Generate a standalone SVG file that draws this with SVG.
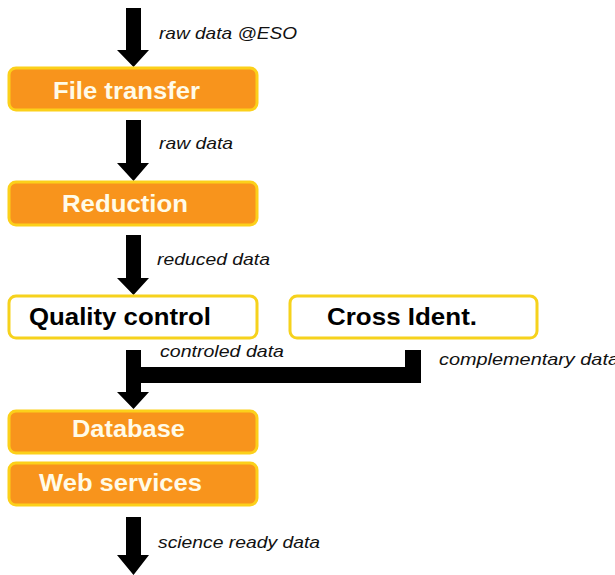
<svg xmlns="http://www.w3.org/2000/svg" width="615" height="575" viewBox="0 0 615 575">
<style>
.box{fill:#f8941c;stroke:#fcd01a;stroke-width:3}
.wbox{fill:#ffffff;stroke:#f6d21c;stroke-width:3}
.bl{font-family:"Liberation Sans",Arial,sans-serif;font-weight:bold;font-size:24px;fill:#fffbe8}
.bk{font-family:"Liberation Sans",Arial,sans-serif;font-weight:bold;font-size:24px;fill:#000}
.lb{font-family:"Liberation Sans",Arial,sans-serif;font-style:italic;font-size:17px;fill:#111}
.ar{fill:#000}
</style>
<rect width="615" height="575" fill="#fff"/>
<g id="connectors">
<polygon class="ar" points="126,8 141,8 141,50 149,50 133.5,67 117,50 126,50"/>
<polygon class="ar" points="126,120 141,120 141,163 149,163 133.5,181 117,163 126,163"/>
<polygon class="ar" points="126,235 141,235 141,278 149,278 133.5,295 117,278 126,278"/>
<polygon class="ar" points="126,350 141,350 141,367 405,367 405,350 421,350 421,383 141,383 141,392 149,392 133.5,409 117,392 126,392"/>
<polygon class="ar" points="126,517 141,517 141,555 149,555 133.5,575 117,555 126,555"/>
<text class="lb" x="159" y="39" textLength="138" lengthAdjust="spacingAndGlyphs">raw data @ESO</text>
<text class="lb" x="159" y="149" textLength="74" lengthAdjust="spacingAndGlyphs">raw data</text>
<text class="lb" x="157" y="265" textLength="113" lengthAdjust="spacingAndGlyphs">reduced data</text>
<text class="lb" x="160" y="357" textLength="124" lengthAdjust="spacingAndGlyphs">controled data</text>
<text class="lb" x="439" y="365" textLength="180" lengthAdjust="spacingAndGlyphs">complementary data</text>
<text class="lb" x="158" y="548" textLength="162" lengthAdjust="spacingAndGlyphs">science ready data</text>
</g>
<g id="file-transfer">
<rect class="box" x="9" y="68" width="248" height="42" rx="7"/>
<text class="bl" x="53" y="99" textLength="147" lengthAdjust="spacingAndGlyphs">File transfer</text>
</g>
<g id="reduction">
<rect class="box" x="9" y="182" width="248" height="43" rx="7"/>
<text class="bl" x="62" y="212" textLength="126" lengthAdjust="spacingAndGlyphs">Reduction</text>
</g>
<g id="quality-control">
<rect class="wbox" x="9" y="296" width="248" height="42" rx="7"/>
<text class="bk" x="29" y="325" textLength="182" lengthAdjust="spacingAndGlyphs">Quality control</text>
</g>
<g id="cross-ident">
<rect class="wbox" x="290" y="296" width="247" height="42" rx="7"/>
<text class="bk" x="327" y="325" textLength="150" lengthAdjust="spacingAndGlyphs">Cross Ident.</text>
</g>
<g id="database">
<rect class="box" x="9" y="411" width="248" height="42" rx="7"/>
<text class="bl" x="72" y="437" textLength="113" lengthAdjust="spacingAndGlyphs">Database</text>
</g>
<g id="web-services">
<rect class="box" x="9" y="463" width="248" height="42" rx="7"/>
<text class="bl" x="39" y="491" textLength="163" lengthAdjust="spacingAndGlyphs">Web services</text>
</g>
</svg>
